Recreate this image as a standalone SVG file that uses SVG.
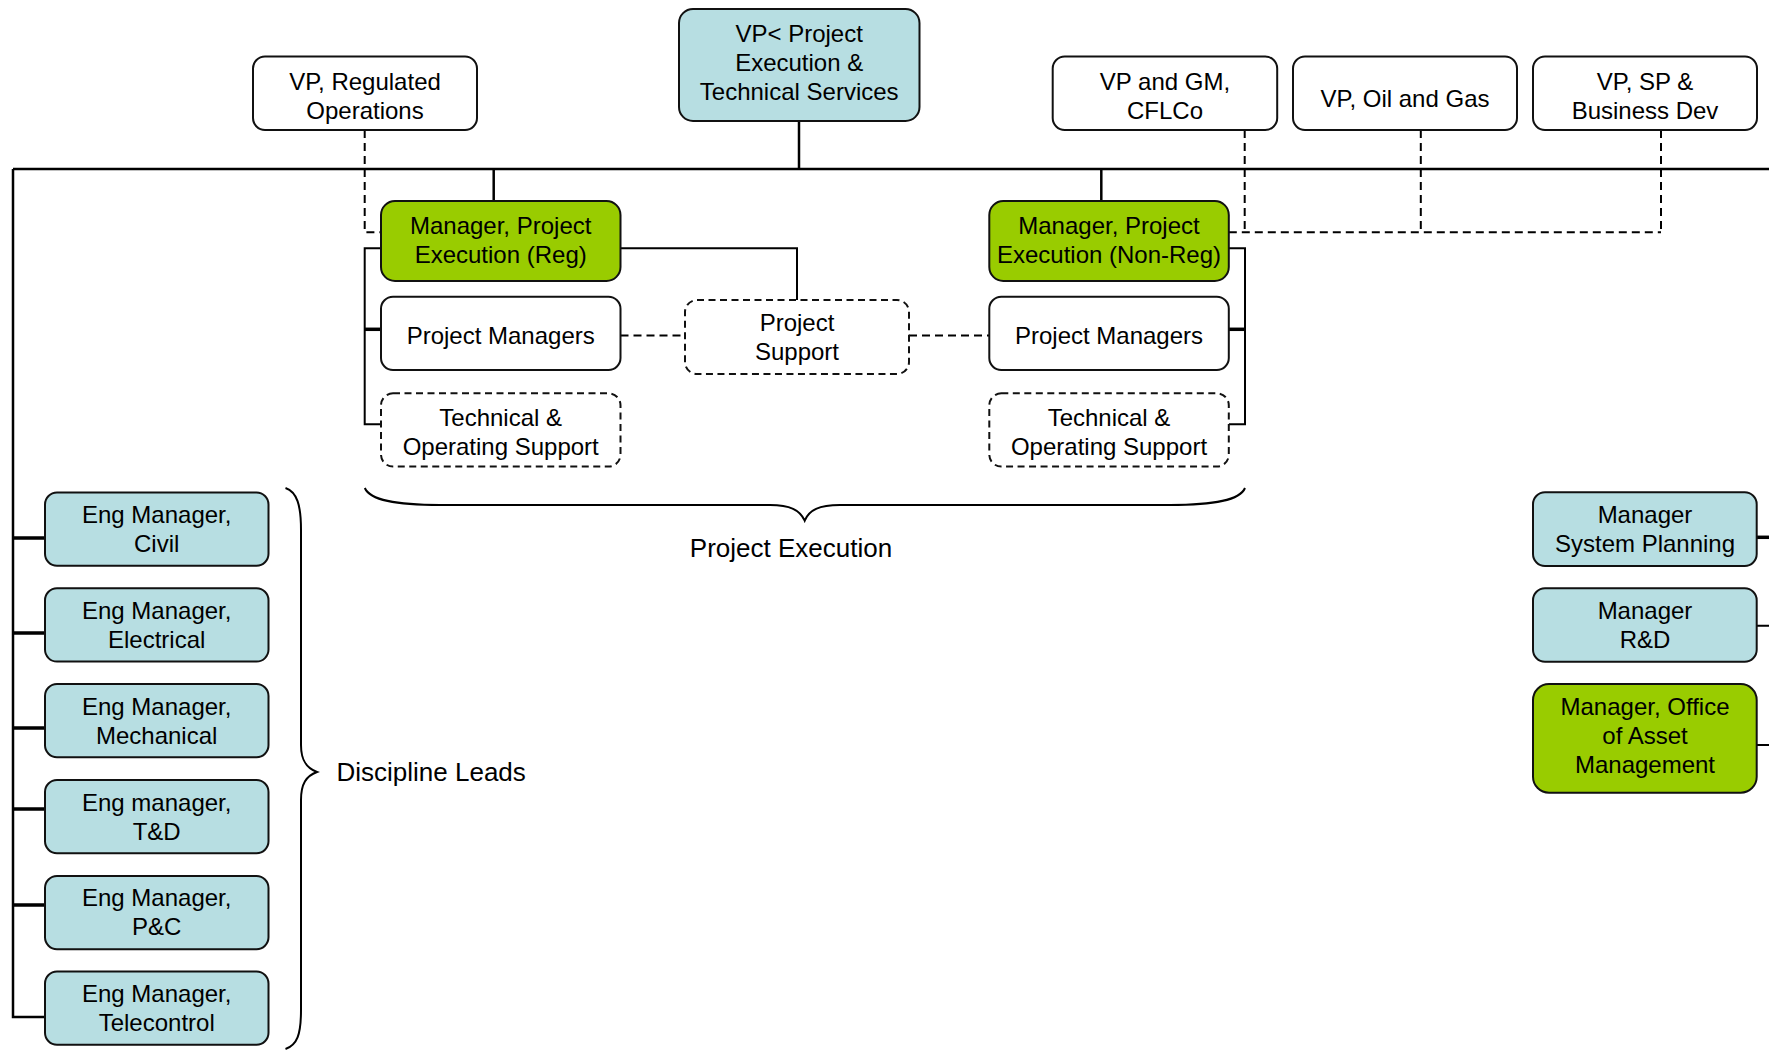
<svg xmlns="http://www.w3.org/2000/svg" width="1769" height="1057" viewBox="0 0 1769 1057">
  <style>
    .box { stroke: #111; stroke-width: 2; }
    .white { fill: #ffffff; }
    .blue { fill: #b7dee2; }
    .green { fill: #99cc00; }
    .dashbox { fill: #ffffff; stroke: #111; stroke-width: 2; stroke-dasharray: 7 4.5; }
    .lbl { font-family: "Liberation Sans", Arial, sans-serif; font-size: 24px; fill: #000; text-anchor: middle; }
    .cap { font-family: "Liberation Sans", Arial, sans-serif; font-size: 26px; fill: #000; }
    .ln { fill: none; stroke: #000; stroke-width: 2.5; }
    .thin { fill: none; stroke: #000; stroke-width: 2; }
    .thick { fill: none; stroke: #000; stroke-width: 3.5; }
    .dash { fill: none; stroke: #000; stroke-width: 2; stroke-dasharray: 8 5; }
    .brace { fill: none; stroke: #000; stroke-width: 2; }
  </style>

  <rect width="1769" height="1057" fill="#ffffff"/>

  <!-- connectors -->
  <g id="connectors">
    <!-- main reporting bus -->
    <path class="ln" d="M13,169 H1769"/>
    <path class="ln" d="M799,121 V169"/>
    <path class="ln" d="M493.7,169 V201"/>
    <path class="ln" d="M1101.3,169 V201"/>
    <path class="ln" d="M13,169 V1017 H45"/>
    <!-- discipline lead stubs -->
    <path class="thick" d="M13,538 H45 M13,633 H45 M13,728 H45 M13,809 H45 M13,905 H45"/>
    <!-- right-hand stubs -->
    <path class="thick" d="M1756.7,537.3 H1769"/>
    <path class="thin" d="M1756.7,625.7 H1769 M1756.7,745 H1769"/>

    <!-- Reg bracket -->
    <path class="thin" d="M381,248.3 H364.7 V424.3 H381"/>
    <path class="thick" d="M364.7,329.3 H381"/>
    <!-- Non-Reg bracket -->
    <path class="thin" d="M1228.8,248.3 H1245 V424.3 H1228.8"/>
    <path class="thick" d="M1245,329.3 H1228.8"/>

    <!-- Reg manager to project support -->
    <path class="thin" d="M620.5,248.3 H797 V300"/>

    <!-- dotted-line relationships -->
    <path class="dash" d="M364.7,130 V232.3 H381"/>
    <path class="dash" d="M1244.7,130 V232.3"/>
    <path class="dash" d="M1420.8,130 V232.3"/>
    <path class="dash" d="M1661,130 V232.3"/>
    <path class="dash" d="M1228.8,232.3 H1661"/>
    <path class="dash" d="M620.5,335.5 H685"/>
    <path class="dash" d="M909,335.5 H989.3"/>
  </g>

  <!-- top-level VPs -->
  <g id="vp-regulated">
    <rect class="box white" x="253" y="56.5" width="224" height="73.5" rx="12"/>
    <text class="lbl" x="365" y="89.5">VP, Regulated</text>
    <text class="lbl" x="365" y="118.5">Operations</text>
  </g>
  <g id="vp-project-execution">
    <rect class="box blue" x="679" y="9" width="240.5" height="112" rx="14"/>
    <text class="lbl" x="799.2" y="42">VP&lt; Project</text>
    <text class="lbl" x="799.2" y="71">Execution &amp;</text>
    <text class="lbl" x="799.2" y="100">Technical Services</text>
  </g>
  <g id="vp-cflco">
    <rect class="box white" x="1052.7" y="56.5" width="224.5" height="73.5" rx="12"/>
    <text class="lbl" x="1165" y="89.5">VP and GM,</text>
    <text class="lbl" x="1165" y="118.5">CFLCo</text>
  </g>
  <g id="vp-oil-gas">
    <rect class="box white" x="1293" y="56.5" width="224" height="73.5" rx="12"/>
    <text class="lbl" x="1405" y="106.5">VP, Oil and Gas</text>
  </g>
  <g id="vp-sp-business">
    <rect class="box white" x="1533" y="56.5" width="224" height="73.5" rx="12"/>
    <text class="lbl" x="1645" y="89.5">VP, SP &amp;</text>
    <text class="lbl" x="1645" y="118.5">Business Dev</text>
  </g>

  <!-- project execution -->
  <g id="mgr-pe-reg">
    <rect class="box green" x="381" y="201" width="239.5" height="80" rx="14"/>
    <text class="lbl" x="500.7" y="234">Manager, Project</text>
    <text class="lbl" x="500.7" y="263">Execution (Reg)</text>
  </g>
  <g id="mgr-pe-nonreg">
    <rect class="box green" x="989.3" y="201" width="239.5" height="80" rx="14"/>
    <text class="lbl" x="1109" y="234">Manager, Project</text>
    <text class="lbl" x="1109" y="263">Execution (Non-Reg)</text>
  </g>
  <g id="pm-reg">
    <rect class="box white" x="381" y="296.7" width="239.5" height="73.3" rx="12"/>
    <text class="lbl" x="500.7" y="344">Project Managers</text>
  </g>
  <g id="project-support">
    <rect class="dashbox" x="685" y="300" width="224" height="74" rx="12"/>
    <text class="lbl" x="797" y="330.5">Project</text>
    <text class="lbl" x="797" y="359.5">Support</text>
  </g>
  <g id="pm-nonreg">
    <rect class="box white" x="989.3" y="296.7" width="239.5" height="73.3" rx="12"/>
    <text class="lbl" x="1109" y="344">Project Managers</text>
  </g>
  <g id="tos-reg">
    <rect class="dashbox" x="381" y="393.3" width="239.5" height="73.3" rx="12"/>
    <text class="lbl" x="500.7" y="426">Technical &amp;</text>
    <text class="lbl" x="500.7" y="455">Operating Support</text>
  </g>
  <g id="tos-nonreg">
    <rect class="dashbox" x="989.3" y="393.3" width="239.5" height="73.3" rx="12"/>
    <text class="lbl" x="1109" y="426">Technical &amp;</text>
    <text class="lbl" x="1109" y="455">Operating Support</text>
  </g>

  <!-- project execution brace and label -->
  <g id="project-execution-label">
    <path class="brace" d="M364.8,488 C370,500 395,505 440,505 L770,505 C790,505 800,510 804.7,520.7 C809,510 819,505 840,505 L1170,505 C1215,505 1240,500 1245,488"/>
    <text class="cap" x="791" y="557" text-anchor="middle">Project Execution</text>
  </g>

  <!-- discipline leads -->
  <g id="eng-civil">
    <rect class="box blue" x="45" y="492.5" width="223.5" height="73.3" rx="12"/>
    <text class="lbl" x="156.7" y="523">Eng Manager,</text>
    <text class="lbl" x="156.7" y="552">Civil</text>
  </g>
  <g id="eng-electrical">
    <rect class="box blue" x="45" y="588.3" width="223.5" height="73.3" rx="12"/>
    <text class="lbl" x="156.7" y="619">Eng Manager,</text>
    <text class="lbl" x="156.7" y="648">Electrical</text>
  </g>
  <g id="eng-mechanical">
    <rect class="box blue" x="45" y="684" width="223.5" height="73.3" rx="12"/>
    <text class="lbl" x="156.7" y="714.5">Eng Manager,</text>
    <text class="lbl" x="156.7" y="743.5">Mechanical</text>
  </g>
  <g id="eng-td">
    <rect class="box blue" x="45" y="780" width="223.5" height="73.3" rx="12"/>
    <text class="lbl" x="156.7" y="810.5">Eng manager,</text>
    <text class="lbl" x="156.7" y="839.5">T&amp;D</text>
  </g>
  <g id="eng-pc">
    <rect class="box blue" x="45" y="876" width="223.5" height="73.3" rx="12"/>
    <text class="lbl" x="156.7" y="906">Eng Manager,</text>
    <text class="lbl" x="156.7" y="935">P&amp;C</text>
  </g>
  <g id="eng-telecontrol">
    <rect class="box blue" x="45" y="971.5" width="223.5" height="73.3" rx="12"/>
    <text class="lbl" x="156.7" y="1002">Eng Manager,</text>
    <text class="lbl" x="156.7" y="1031">Telecontrol</text>
  </g>

  <g id="discipline-leads-label">
    <path class="brace" d="M285.5,488 C297,492 301,505 301,530 L301,745 C301,760 306,768 317,772 C306,776 301,784 301,800 L301,1010 C301,1035 297,1045 285.5,1049"/>
    <text class="cap" x="336.5" y="781">Discipline Leads</text>
  </g>

  <!-- right-hand managers -->
  <g id="mgr-system-planning">
    <rect class="box blue" x="1533" y="492.3" width="223.7" height="73.7" rx="12"/>
    <text class="lbl" x="1645" y="522.5">Manager</text>
    <text class="lbl" x="1645" y="551.5">System Planning</text>
  </g>
  <g id="mgr-rd">
    <rect class="box blue" x="1533" y="588.3" width="223.7" height="73.4" rx="12"/>
    <text class="lbl" x="1645" y="618.5">Manager</text>
    <text class="lbl" x="1645" y="647.5">R&amp;D</text>
  </g>
  <g id="mgr-asset-management">
    <rect class="box green" x="1533" y="684" width="223.7" height="108.7" rx="16"/>
    <text class="lbl" x="1645" y="714.5">Manager, Office</text>
    <text class="lbl" x="1645" y="743.5">of Asset</text>
    <text class="lbl" x="1645" y="772.5">Management</text>
  </g>
</svg>
